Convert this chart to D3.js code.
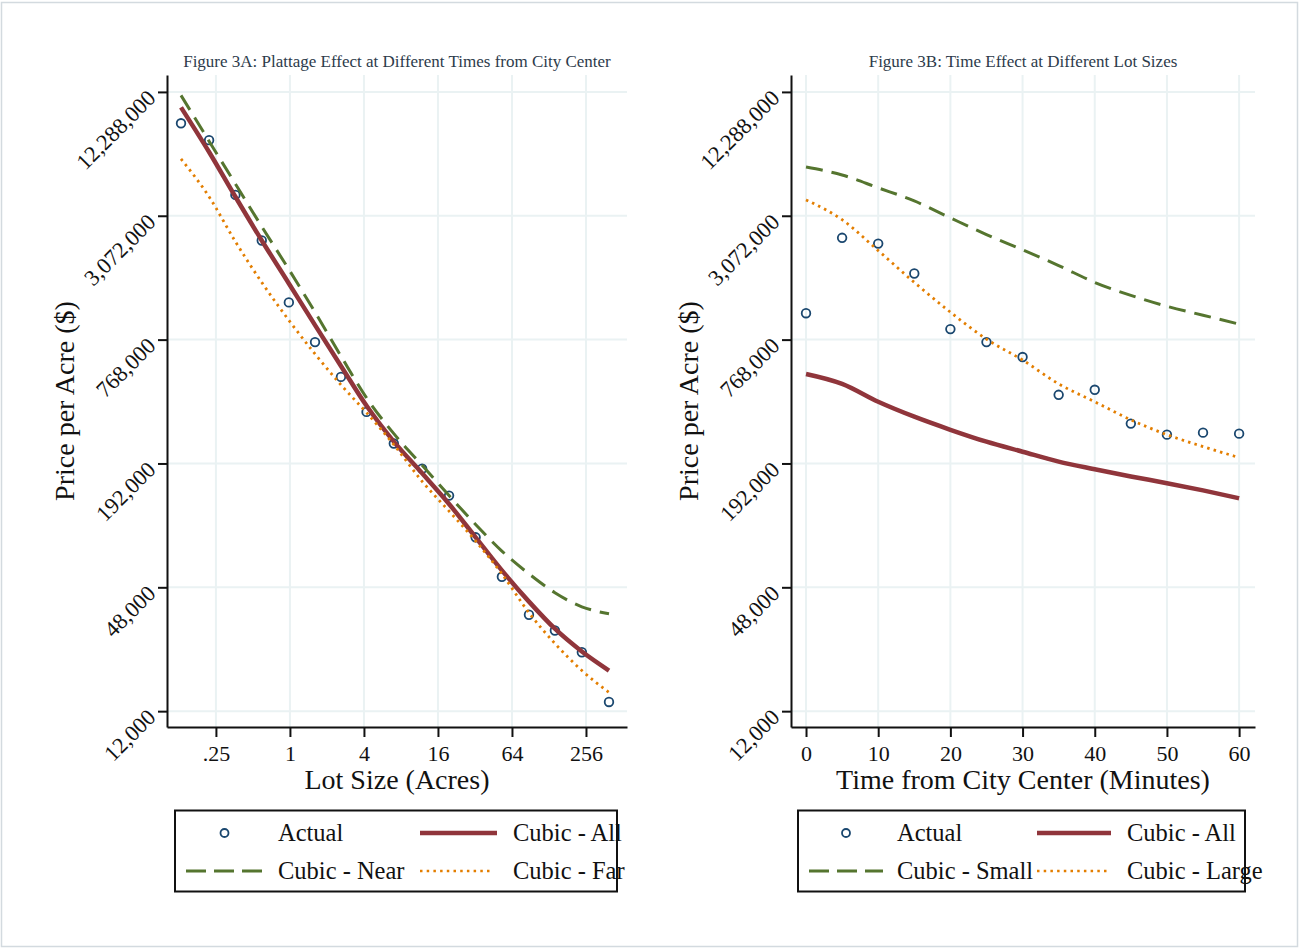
<!DOCTYPE html>
<html>
<head>
<meta charset="utf-8">
<script src="https://cdn.jsdelivr.net/npm/d3@7"></script>
<style>
  body { margin: 0; background: #fff; }
  text { font-family: "Liberation Serif", "Times New Roman", serif; fill: #111; }
</style>
</head>
<body>
<script>
  // read data
  var yTicks = [12000, 48000, 192000, 768000, 3072000, 12288000];

  // Figure 3A
  var lotTicks = [0.25, 1, 4, 16, 64, 256];
  var lotTickLabels = [".25", "1", "4", "16", "64", "256"];
  var lotSize = [0.13, 0.22, 0.36, 0.59, 0.98, 1.6, 2.6, 4.2, 7.0, 11.9, 19.7, 32.4, 53, 88, 143, 237, 394];
  var lotActual = [8650000, 7160000, 3880000, 2330000, 1165000, 747000, 506000, 342000, 240000, 181000, 134000, 84000, 54000, 35300, 29600, 23200, 13300];
  var lotCubicAll = [10340000, 6270000, 3800000, 2330000, 1440000, 903000, 572000, 366000, 245000, 172000, 122000, 84000, 58000, 40900, 30200, 23400, 18900];
  var lotCubicNear = [11820000, 7080000, 4390000, 2720000, 1685000, 1044000, 639000, 400000, 268000, 188000, 134000, 97000, 72000, 55800, 45200, 38600, 35700];
  var lotCubicFar = [5800000, 3800000, 2300000, 1457000, 954000, 654000, 463000, 339000, 237000, 157000, 112600, 80600, 55800, 36100, 25600, 18900, 14800];

  // Figure 3B
  var minuteTicks = [0, 10, 20, 30, 40, 50, 60];
  var minutes = [0, 5, 10, 15, 20, 25, 30, 35, 40, 45, 50, 55, 60];
  var timeActual = [1032000, 2400000, 2250000, 1610000, 864000, 747000, 632000, 414000, 438000, 300000, 265000, 271000, 268000];
  var timeCubicAll = [523000, 468000, 383000, 324000, 280000, 245000, 219000, 196000, 180000, 166000, 154000, 142000, 130000];
  var timeCubicSmall = [5300000, 4850000, 4200000, 3630000, 3000000, 2490000, 2100000, 1760000, 1457000, 1260000, 1115000, 1009000, 913000];
  var timeCubicLarge = [3670000, 2940000, 2080000, 1457000, 1044000, 772000, 611000, 468000, 383000, 313000, 265000, 232000, 205000];

  var navy = "#1a476f", maroon = "#90353b", green = "#55752f", orange = "#e37e00", gridColor = "#eaf2f3";

  var svg = d3.select("body").append("svg")
    .attr("width", 1301)
    .attr("height", 949);

  svg.append("rect")
    .attr("x", 1.5).attr("y", 2.5)
    .attr("width", 1296).attr("height", 944)
    .attr("fill", "#fff")
    .attr("stroke", "#d3dadf")
    .attr("stroke-width", 1.5);

  DrawPanel({
    left: 167, right: 627,
    x: d3.scaleLog().base(2).domain([0.1, 552]),
    xTicks: lotTicks, xTickLabels: lotTickLabels,
    xs: lotSize,
    actual: lotActual, all: lotCubicAll, dash: lotCubicNear, dot: lotCubicFar,
    title: "Figure 3A: Plattage Effect at Different Times from City Center",
    xTitle: "Lot Size (Acres)",
    legend: { x0: 175, x1: 617, sym1: 186, txt1: 278, sym2: 420, txt2: 513, symW: 77,
      names: ["Actual", "Cubic - All", "Cubic - Near", "Cubic - Far"] }
  });

  DrawPanel({
    left: 791, right: 1255,
    x: d3.scaleLinear().domain([-2.08, 62.2]),
    xTicks: minuteTicks, xTickLabels: minuteTicks.map(String),
    xs: minutes,
    actual: timeActual, all: timeCubicAll, dash: timeCubicSmall, dot: timeCubicLarge,
    title: "Figure 3B: Time Effect at Different Lot Sizes",
    xTitle: "Time from City Center (Minutes)",
    legend: { x0: 798, x1: 1245, sym1: 809, txt1: 897, sym2: 1037, txt2: 1127, symW: 74,
      names: ["Actual", "Cubic - All", "Cubic - Small", "Cubic - Large"] }
  });

  function DrawPanel(p)
  {
    var top = 75, bottom = 727;
    var x = p.x.range([p.left, p.right]);
    var y = d3.scaleLog().domain([10050, 14850000]).range([bottom, top]);

    var g = svg.append("g");

    // grid
    g.selectAll(".hgrid").data(yTicks).enter().append("line")
      .attr("x1", p.left).attr("x2", p.right)
      .attr("y1", function(d) { return y(d); })
      .attr("y2", function(d) { return y(d); })
      .attr("stroke", gridColor).attr("stroke-width", 2);
    g.selectAll(".vgrid").data(p.xTicks).enter().append("line")
      .attr("y1", top).attr("y2", bottom)
      .attr("x1", function(d) { return x(d); })
      .attr("x2", function(d) { return x(d); })
      .attr("stroke", gridColor).attr("stroke-width", 2);

    var pts = p.xs.map(function(v, i) {
      return { x: v, actual: p.actual[i], all: p.all[i], dash: p.dash[i], dot: p.dot[i] };
    });

    // points
    g.selectAll(".dot").data(pts).enter().append("circle")
      .attr("cx", function(d) { return x(d.x); })
      .attr("cy", function(d) { return y(d.actual); })
      .attr("r", 4.3)
      .attr("fill", "none")
      .attr("stroke", navy)
      .attr("stroke-width", 1.8);

    function fitLine(key) {
      return d3.line()
        .x(function(d) { return x(d.x); })
        .y(function(d) { return y(d[key]); })
        .curve(d3.curveMonotoneX);
    }

    g.append("path").datum(pts).attr("d", fitLine("all"))
      .attr("fill", "none").attr("stroke", maroon).attr("stroke-width", 4.5);
    g.append("path").datum(pts).attr("d", fitLine("dash"))
      .attr("fill", "none").attr("stroke", green).attr("stroke-width", 3)
      .attr("stroke-dasharray", "17,9");
    g.append("path").datum(pts).attr("d", fitLine("dot"))
      .attr("fill", "none").attr("stroke", orange).attr("stroke-width", 2.8)
      .attr("stroke-dasharray", "2.5,4.2");

    // y axis
    var yAxis = g.append("g")
      .attr("transform", "translate(" + p.left + ",0)")
      .call(d3.axisLeft(y).tickValues(yTicks).tickSize(9).tickSizeOuter(0).tickFormat(d3.format(",")));
    yAxis.select(".domain").attr("stroke", "#111").attr("stroke-width", 2);
    yAxis.selectAll(".tick line").attr("stroke", "#111").attr("stroke-width", 2);
    yAxis.selectAll(".tick text")
      .attr("x", 0).attr("dy", null)
      .attr("transform", "translate(-10,7) rotate(-45)")
      .attr("font-family", "Liberation Serif")
      .attr("font-size", 22.5)
      .attr("fill", "#111");

    // x axis
    var xAxis = g.append("g")
      .attr("transform", "translate(0," + bottom + ")")
      .call(d3.axisBottom(x).tickValues(p.xTicks).tickSize(10).tickSizeOuter(0)
        .tickFormat(function(d, i) { return p.xTickLabels[i]; }));
    xAxis.select(".domain").attr("stroke", "#111").attr("stroke-width", 2);
    xAxis.selectAll(".tick line").attr("stroke", "#111").attr("stroke-width", 2);
    xAxis.selectAll(".tick text")
      .attr("y", 34).attr("dy", null)
      .attr("font-family", "Liberation Serif")
      .attr("font-size", 22)
      .attr("fill", "#111");

    // titles
    g.append("text")
      .attr("x", (p.left + p.right) / 2).attr("y", 67)
      .attr("text-anchor", "middle")
      .attr("font-size", 17)
      .style("fill", "#2d3b4b")
      .text(p.title);

    g.append("text")
      .attr("x", (p.left + p.right) / 2).attr("y", 789)
      .attr("text-anchor", "middle")
      .attr("font-size", 28)
      .text(p.xTitle);

    g.append("text")
      .attr("transform", "translate(" + (p.left - 93) + "," + ((top + bottom) / 2) + ") rotate(-90)")
      .attr("text-anchor", "middle")
      .attr("font-size", 28)
      .text("Price per Acre ($)");

    // legend
    var L = p.legend;
    var lg = g.append("g");
    lg.append("rect")
      .attr("x", L.x0).attr("y", 810.5)
      .attr("width", L.x1 - L.x0).attr("height", 81)
      .attr("fill", "#fff").attr("stroke", "#111").attr("stroke-width", 2);

    var row1 = 833, row2 = 871;
    lg.append("circle")
      .attr("cx", L.sym1 + L.symW / 2).attr("cy", row1).attr("r", 4)
      .attr("fill", "none").attr("stroke", navy).attr("stroke-width", 1.8);
    lg.append("line")
      .attr("x1", L.sym2).attr("x2", L.sym2 + L.symW).attr("y1", row1).attr("y2", row1)
      .attr("stroke", maroon).attr("stroke-width", 4.5);
    lg.append("line")
      .attr("x1", L.sym1).attr("x2", L.sym1 + L.symW).attr("y1", row2).attr("y2", row2)
      .attr("stroke", green).attr("stroke-width", 3).attr("stroke-dasharray", "20,8");
    lg.append("line")
      .attr("x1", L.sym2).attr("x2", L.sym2 + L.symW - 4).attr("y1", row2).attr("y2", row2)
      .attr("stroke", orange).attr("stroke-width", 2.5).attr("stroke-dasharray", "2.5,4.2");

    var labelPos = [[L.txt1, row1], [L.txt2, row1], [L.txt1, row2], [L.txt2, row2]];
    lg.selectAll(".ltext").data(L.names).enter().append("text")
      .attr("x", function(d, i) { return labelPos[i][0]; })
      .attr("y", function(d, i) { return labelPos[i][1] + 8; })
      .attr("font-size", 24.5)
      .text(function(d) { return d; });
  }
</script>
</body>
</html>
